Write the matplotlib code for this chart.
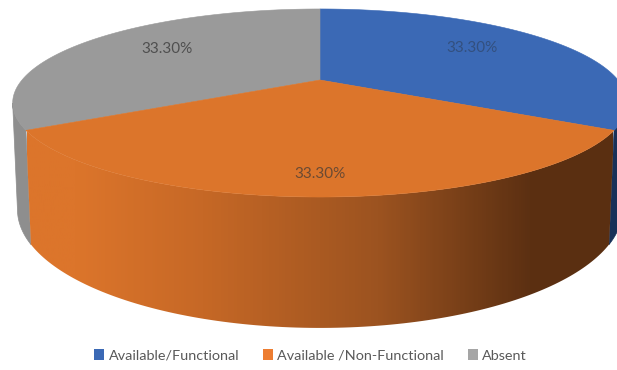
import numpy as np
import matplotlib
matplotlib.use("Agg")
import matplotlib.pyplot as plt
from matplotlib.colors import LinearSegmentedColormap
from matplotlib.patches import Patch, Polygon

categories = ["Available/Functional", "Available /Non-Functional", "Absent"]
values = [33.3, 33.3, 33.3]
labels = ["33.30%", "33.30%", "33.30%"]
top_colors = ["#3b69b5", "#dc752b", "#9a9a9a"]
legend_colors = ["#3b69b5", "#ed7d31", "#a5a5a5"]
label_colors = ["#33507f", "#6b4a33", "#4f4f4f"]

plt.rcParams["font.family"] = ["Lato", "DejaVu Sans"]

# camera for the tilted disc, in pixels
cx, cy = 320, 80
k, m, p = 298, 88.4, 0.2446
n, q = 102.6, 0.015


def top_rim(t):
    x, y = np.cos(t), np.sin(t)
    w = 1 + p * y
    return cx + k * x / w, cy - m * y / w


def bottom_rim(t):
    x, y = np.cos(t), np.sin(t)
    w = 1 + p * y + q
    return cx + k * x / w, cy + (n - m * y) / w


def band(t0, t1):
    t = np.linspace(t0, t1, 120)
    xa, ya = top_rim(t)
    xb, yb = bottom_rim(t[::-1])
    return np.column_stack([np.r_[xa, xb], np.r_[ya, yb]])


fig = plt.figure(figsize=(6.17, 3.7), dpi=100)
ax = fig.add_axes([0, 0, 1, 1])

# slice angles, clockwise from twelve o'clock
shares = np.array(values) / sum(values)
edges = np.pi / 2 - 2 * np.pi * np.r_[0, np.cumsum(shares)]
silhouette = np.arcsin(p)

# side walls
front0, front1 = edges[2], edges[1]
ax.add_patch(Polygon(band(edges[1], -silhouette), color="#183058", lw=0.5))
ax.add_patch(Polygon(band(np.pi + silhouette - 2 * np.pi, edges[2]), color="#8e8e8e", lw=0.5))

front = Polygon(band(front0, front1), closed=True, fc="none", ec="none")
ax.add_patch(front)
shade = LinearSegmentedColormap.from_list(
    "front", [(0, "#dc752b"), (0.08, "#dc752b"), (0.3, "#c66826"), (0.6, "#9c5320"), (0.86, "#5c3012"), (1, "#5a2f11")]
)
img = ax.imshow(
    np.linspace(0, 1, 300).reshape(1, -1),
    extent=[27, 613, 370, 0],
    cmap=shade,
    aspect="auto",
    zorder=2,
)
img.set_clip_path(front)
ax.set_xlim(0, 617)
ax.set_ylim(370, 0)
ax.axis("off")

# top face
for i, col in enumerate(top_colors):
    t = np.linspace(edges[i], edges[i + 1], 200)
    xs, ys = top_rim(t)
    pts = np.column_stack([np.r_[cx, xs], np.r_[cy, ys]])
    ax.add_patch(Polygon(pts, closed=True, fc=col, ec=col, lw=0.4, zorder=3 + (i == 1)))

label_x = [472, 320, 167]
label_y = [48, 174, 49]
for i, txt in enumerate(labels):
    ax.text(label_x[i], label_y[i], txt, ha="center", va="center", fontsize=11,
            color=label_colors[i], zorder=6)

handles = [Patch(fc=c, ec="none") for c in legend_colors]
leg = ax.legend(handles, categories, loc="center", bbox_to_anchor=(310.5, 355.5),
                bbox_transform=ax.transData, ncol=3, frameon=False, fontsize=10.4,
                handlelength=0.68, handleheight=0.75, handletextpad=0.3, columnspacing=1.65,
                labelcolor="#595959", borderpad=0)

fig.savefig("out.png", dpi=100)
